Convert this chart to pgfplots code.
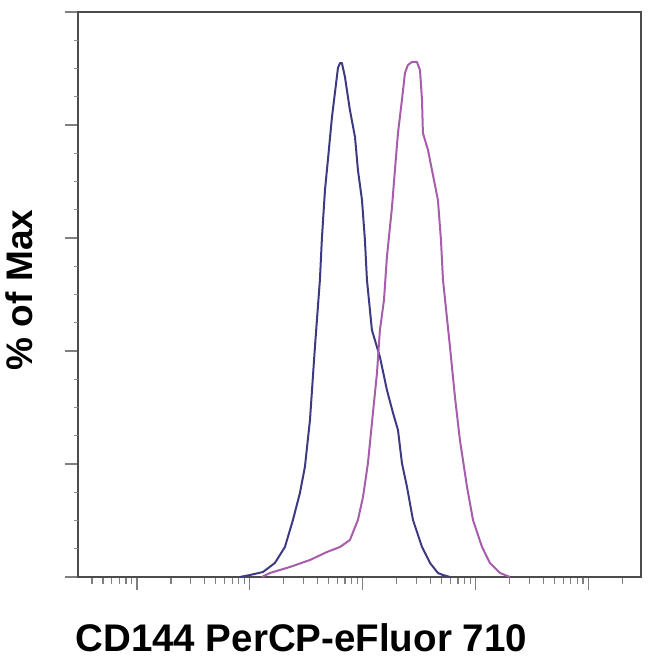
\documentclass[border=0pt]{standalone}
\usepackage{fontspec}
\setmainfont{Liberation Sans}
\usepackage{pgfplots}
\pgfplotsset{compat=1.18}

\definecolor{isoblue}{RGB}{62,58,130}
\definecolor{stainpurple}{RGB}{168,92,172}

% x values are in decades (log10 of intensity)
\pgfplotstableread{
d      pct
1.913  0
2.002  0.35
2.117  0.88
2.223  2.48
2.312  5.31
2.383  10.09
2.445  14.87
2.489  19.47
2.534  27.79
2.578  40.71
2.622  52.57
2.640  60.00
2.667  68.50
2.693  73.81
2.729  81.42
2.755  85.66
2.782  90.09
2.800  90.97
2.817  90.97
2.844  88.50
2.888  82.65
2.933  77.88
2.959  72.04
2.995  66.73
3.021  59.65
3.039  52.57
3.083  43.72
3.154  38.94
3.216  33.10
3.270  29.03
3.314  26.02
3.349  20.18
3.394  15.93
3.447  10.09
3.527  5.31
3.598  2.48
3.668  0.71
3.713  0.35
3.775  0
}\isotype

\pgfplotstableread{
d      pct
2.108  0
2.179  0.71
2.356  1.77
2.534  3.01
2.684  4.42
2.800  5.31
2.888  6.55
2.959  10.09
3.004  14.16
3.048  20.18
3.092  29.03
3.128  36.11
3.154  43.72
3.190  49.03
3.216  56.64
3.261  65.49
3.287  72.04
3.314  78.58
3.349  84.42
3.376  89.20
3.402  90.62
3.438  91.15
3.482  91.15
3.509  89.73
3.527  84.42
3.535  78.58
3.580  75.58
3.615  72.04
3.668  66.73
3.695  59.65
3.713  52.57
3.775  40.71
3.819  31.86
3.863  24.25
3.926  15.93
3.979  10.09
4.059  5.31
4.129  2.48
4.218  0.71
4.307  0
}\cdstain

\begin{document}
\begin{tikzpicture}[x=1pt,y=1pt]
\useasboundingbox (-78,-89) rectangle (572,577);
\begin{axis}[
	scale only axis,
	width=563pt,
	height=565pt,
	at={(0,0)},
	anchor=south west,
	xmin=0.478, xmax=5.468,
	ymin=0, ymax=100,
	xtick={1,2,3,4,5},
	minor xtick={0.477,0.602,0.699,0.778,0.845,0.903,0.954,
		1.301,1.477,1.602,1.699,1.778,1.845,1.903,1.954,
		2.301,2.477,2.602,2.699,2.778,2.845,2.903,2.954,
		3.301,3.477,3.602,3.699,3.778,3.845,3.903,3.954,
		4.301,4.477,4.602,4.699,4.778,4.845,4.903,4.954,
		5.301},
	ytick={0,20,40,60,80,100},
	extra y ticks={5,10,15,25,30,35,45,50,55,65,70,75,85,90,95},
	extra y tick style={major tick length=4pt, tick style={black!45, line width=1pt}},
	extra y tick labels={},
	xticklabels={}, yticklabels={},
	tick align=outside,
	major tick length=13pt,
	minor tick length=7pt,
	tick style={black!50, line width=1.3pt},
	axis line style={black!70, line width=2pt},
	xtick pos=bottom, ytick pos=left,
	xlabel={\fontsize{38.5}{42}\selectfont\bfseries CD144 PerCP-eFluor 710},
	ylabel={\fontsize{37}{40}\selectfont\bfseries \% of Max},
	xlabel style={at={(axis description cs:-0.0107,-0.1327)}, anchor=base west},
	ylabel style={at={(axis description cs:-0.0817,0.508)}, anchor=base},
	clip=true,
]
\addplot[color=isoblue, line width=2pt, line join=round] table[x=d, y=pct] {\isotype};
\addplot[color=stainpurple, line width=2pt, line join=round] table[x=d, y=pct] {\cdstain};
\end{axis}
\end{tikzpicture}
\end{document}
